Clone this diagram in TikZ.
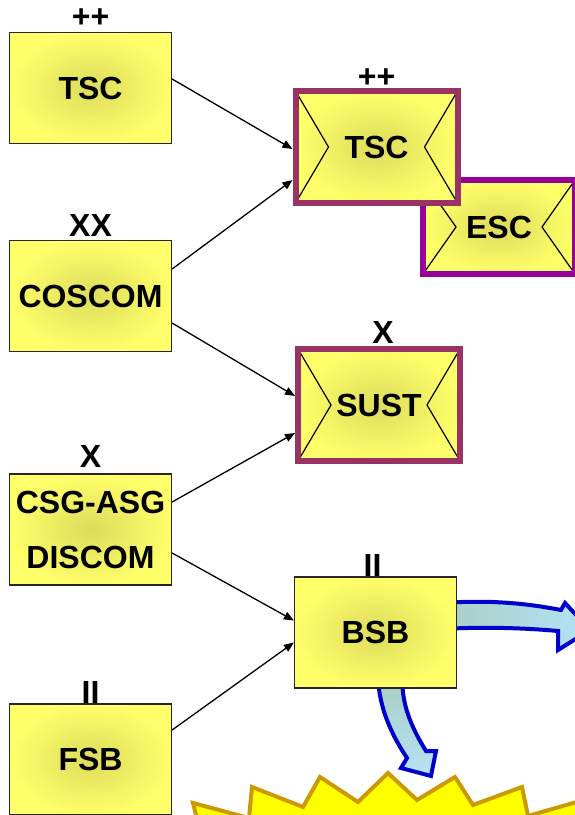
\documentclass[tikz,border=0pt]{standalone}
\usepackage{fontspec}
\setmainfont{Liberation Sans}
\definecolor{unitedge}{HTML}{FFFF6A}
\definecolor{unitmid}{HTML}{DCDC5C}
\definecolor{cpred}{HTML}{993366}
\definecolor{cppurple}{HTML}{990099}
\definecolor{flowblue}{HTML}{0000CC}
\definecolor{flowtail}{HTML}{A9CFC6}
\definecolor{flowhead}{HTML}{B5E3F7}
\definecolor{burstfill}{HTML}{FFFF00}
\definecolor{burstedge}{HTML}{CC9900}
\usetikzlibrary{calc, positioning, arrows.meta, backgrounds}

\begin{document}
\begin{tikzpicture}[x=1pt, y=-1pt,
  unitbox/.style={draw=black!85, line width=1.2pt, shading=radial,
                  inner color=unitmid, outer color=unitedge,
                  minimum width=162pt, minimum height=111pt, inner sep=0pt,
                  align=center, font=\fontsize{32}{36}\selectfont\bfseries},
  cpbox/.style={unitbox, draw=#1, line width=6pt, minimum height=112pt,
                path picture={
                  \draw[line width=1.2pt, black]
                    (path picture bounding box.north west)
                    -- ([xshift=33pt]path picture bounding box.west)
                    -- (path picture bounding box.south west)
                    (path picture bounding box.north east)
                    -- ([xshift=-33pt]path picture bounding box.east)
                    -- (path picture bounding box.south east);}},
  ulabel/.style={font=\fontsize{32}{36}\selectfont\bfseries,
                 inner sep=0pt, text depth=0pt},
  link/.style={line width=1.3pt, -{Triangle[length=10pt,width=8pt]}},
  flow/.style={draw=flowblue, line width=4pt},
]
\useasboundingbox (0,0) rectangle (575,815);
\clip (0,0) rectangle (575,815);

\node[unitbox] (tscl) at (90.5,88) {TSC};
\node[unitbox] (coscom) at (90.5,296) {COSCOM};
\node[unitbox] (csg) at (90.5,529.5) {CSG-ASG\\[19pt]DISCOM};
\node[unitbox] (fsb) at (90.5,759.5) {FSB};
\node[cpbox=cppurple, minimum width=152pt, minimum height=94pt] (esc) at (499,227) {ESC};
\node[cpbox=cpred] (tscr) at (376.5,147) {TSC};
\node[cpbox=cpred] (sust) at (379,405) {SUST};
\node[unitbox] (bsb) at (375.5,632.5) {BSB};

\node[ulabel, above=4pt of tscl] {++};
\node[ulabel, above=3pt of coscom] {XX};
\node[ulabel, above=6pt of csg] {X};
\node[ulabel, above=0pt of fsb] {II};
\node[ulabel, above=0pt of tscr] {++};
\node[ulabel, above=2pt of sust, xshift=4pt] {X};
\node[ulabel, above=0pt of bsb, xshift=-3pt] {II};

\draw[link] ([yshift=9pt]tscl.east) -- ([yshift=-2pt]tscr.west);
\draw[link] ([yshift=27pt]coscom.east) -- ([yshift=-33pt]tscr.west);
\draw[link] ([yshift=-27pt]coscom.east) -- ([yshift=9pt]sust.west);
\draw[link] ([yshift=27.5pt]csg.east) -- ([yshift=-28pt]sust.west);
\draw[link] ([yshift=-23.5pt]csg.east) -- ([yshift=12pt]bsb.west);
\draw[link] ([yshift=29.5pt]fsb.east) -- ([yshift=-10pt]bsb.west);

\begin{scope}[on background layer]
% burst at the bottom
\path[draw=burstedge, fill=burstfill, line width=4pt]
  (200,830) -- (193,803) -- (249,818) -- (252,787) -- (303,807) -- (320,777)
  -- (358,802) -- (388,773) -- (417,800) -- (455,777) -- (473,805)
  -- (522,787) -- (528,816) -- (580,801) -- (580,830) -- cycle;
% block arrows out of BSB
\path[flow, left color=flowtail, right color=flowhead]
  ($(bsb.east)+(-6,-30)$) .. controls (495,600) and (530,604) .. (561,610)
  -- (565,603) -- (590,630) -- (558,650) -- (558,631)
  .. controls (525,628) and (490,627) .. ($(bsb.east)+(-6,-4)$) -- cycle;
\path[flow, top color=flowtail, bottom color=flowhead]
  ($(bsb.south)+(3,-4)$) .. controls (381,712) and (393,737) .. (407,758)
  -- (401,768) -- (431,776) -- (436,751) -- (426,751)
  .. controls (413,730) and (403,708) .. ($(bsb.south)+(27,-4)$) -- cycle;
\end{scope}
\end{tikzpicture}
\end{document}
